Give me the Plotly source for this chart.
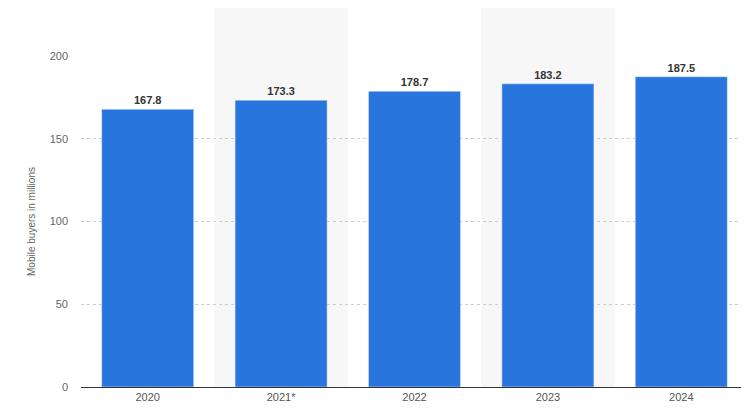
import plotly.graph_objects as go

years = ["2020", "2021*", "2022", "2023", "2024"]
buyers = [167.8, 173.3, 178.7, 183.2, 187.5]

fig = go.Figure()
fig.add_trace(go.Bar(
    x=years, y=buyers,
    marker=dict(color="#2876dd"),
    width=0.69,
    text=[f"{v:.1f}" for v in buyers],
    textposition="outside",
    textfont=dict(size=11, color="#333333", family="Liberation Sans, Arial"),
    texttemplate="<b>%{text}</b>",
    cliponaxis=False,
    showlegend=False,
))

# alternating background bands
for i in (1, 3):
    fig.add_shape(type="rect", xref="x", yref="paper",
                  x0=i - 0.5, x1=i + 0.5, y0=0, y1=1.15,
                  fillcolor="#f7f7f7", line_width=0, layer="below")

fig.update_layout(
    width=749, height=411,
    margin=dict(l=73, r=9, t=48, b=32),
    plot_bgcolor="white", paper_bgcolor="white",
    font=dict(family="Liberation Sans, Arial", size=11, color="#666666"),
    bargap=0.31,
)
fig.update_xaxes(showline=True, linecolor="#333333", linewidth=1,
                 ticks="", tickfont=dict(size=11, color="#555555"))
fig.update_yaxes(range=[0, 200], tickvals=[0, 50, 100, 150, 200],
                 showgrid=True, gridcolor="#cccccc", griddash="dot",
                 zeroline=False, ticks="", ticklabelstandoff=12,
                 tickfont=dict(size=11, color="#666666"),
                 title=dict(text="Mobile buyers in millions",
                            font=dict(size=10, color="#666666"), standoff=12))

fig.write_html("out.html")
